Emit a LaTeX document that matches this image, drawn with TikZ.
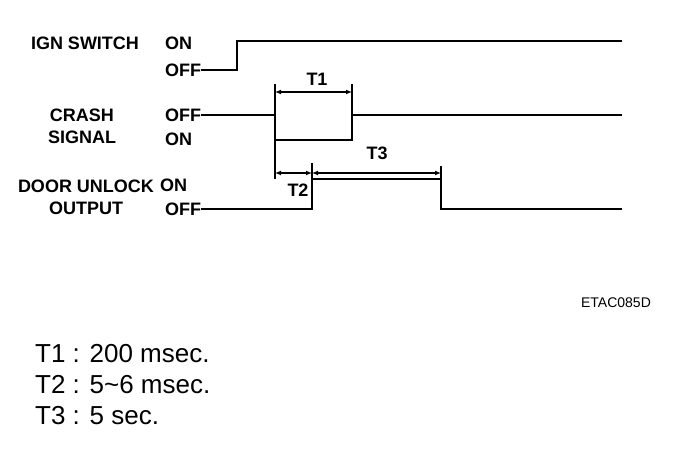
\documentclass[tikz,border=0pt]{standalone}
\usepackage{fontspec}
\setmainfont{Liberation Sans}
\usetikzlibrary{positioning, arrows.meta}

\begin{document}
\begin{tikzpicture}[x=1pt, y=-1pt,
  every node/.style={font=\fontsize{18}{22}\selectfont\bfseries, inner sep=0pt},
  signame/.style={align=center},
  state/.style={anchor=west},
  wave/.style={line width=1.8pt, line join=miter},
  tickline/.style={line width=1.3pt},
  dim/.style={{Latex[length=6pt,width=5pt]}-{Latex[length=6pt,width=5pt]}, line width=1.6pt},
  note/.style={font=\fontsize{14}{16}\selectfont},
  legend/.style={font=\fontsize{26}{31}\selectfont, anchor=west}
]
  \useasboundingbox (0,0) rectangle (688,454);

  % signal names
  \node[signame] (ign) at (85,43) {IGN SWITCH};
  \node[signame] (crash) at (82,126) {CRASH\\SIGNAL};
  \node[signame] (door) at (86,197) {DOOR UNLOCK\\OUTPUT};

  % states
  \node[state] (ignon) at (165,43) {ON};
  \node[state] (ignoff) at (165,70) {OFF};
  \node[state] (crashoff) at (165,115) {OFF};
  \node[state] (crashon) at (165,139) {ON};
  \node[state] (dooron) at (160,185) {ON};
  \node[state] (dooroff) at (165,209) {OFF};

  % waveforms
  \draw[wave] (ignoff.east) -- (237,70) -- (237,41) -- (622,41);
  \draw[wave] (crashoff.east) -- (275,115) -- (275,140) -- (352,140) -- (352,115) -- (622,115);
  \draw[wave] (dooroff.east) -- (312,209) -- (312,179) -- (441,179) -- (441,209) -- (622,209);

  % timing marks
  \coordinate (t1a) at (275,92);
  \coordinate (t1b) at (352,92);
  \coordinate (t2a) at (275,173);
  \coordinate (t2b) at (312,173);
  \coordinate (t3b) at (441,173);
  \draw[tickline] (275,84) -- (275,179);
  \draw[tickline] (352,84) -- (352,115);
  \draw[tickline] (312,163) -- (312,179);
  \draw[tickline] (441,166) -- (441,179);
  \draw[dim] (t1a) -- (t1b);
  \draw[dim] (t2a) -- (t2b);
  \draw[dim] (t2b) -- (t3b);
  \node (t1) at (317,79) {T1};
  \node (t2) at (298,190) {T2};
  \node (t3) at (377,153) {T3};

  \node[note] (code) at (616,303) {ETAC085D};

  % legend
  \node[legend] (l1) at (35,354) {T1 : 200 msec.};
  \node[legend] (l2) at (35,385) {T2 : 5\char`~6 msec.};
  \node[legend] (l3) at (35,416) {T3 : 5 sec.};
\end{tikzpicture}
\end{document}
